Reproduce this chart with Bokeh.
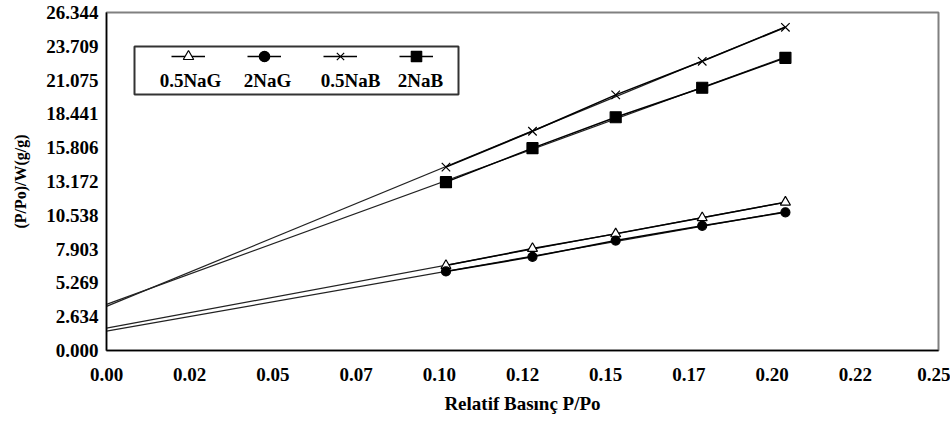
import numpy as np
from bokeh.plotting import figure
from bokeh.models import (Range1d, FixedTicker, Legend, LegendItem, Label,
                          BoxAnnotation, CustomJSTickFormatter)
from bokeh.core.properties import value
from bokeh.embed import file_html
from bokeh.resources import INLINE

# ---------------- data ----------------
x_pp = [0.102, 0.128, 0.153, 0.179, 0.204]
naG_05 = [6.62, 7.95, 9.09, 10.34, 11.56]
naG_2 = [6.16, 7.30, 8.57, 9.72, 10.77]
naB_05 = [14.29, 17.09, 19.92, 22.54, 25.19]
naB_2 = [13.12, 15.77, 18.18, 20.48, 22.81]
series_names = ["0.5NaG", "2NaG", "0.5NaB", "2NaB"]

x_ticks = [0.0, 0.025, 0.05, 0.075, 0.1, 0.125, 0.15, 0.175, 0.2, 0.225, 0.25]
x_tick_labels = ["0.00", "0.02", "0.05", "0.07", "0.10", "0.12", "0.15",
                 "0.17", "0.20", "0.22", "0.25"]
y_ticks = [0.0, 2.634, 5.269, 7.903, 10.538, 13.172, 15.806, 18.441,
           21.075, 23.709, 26.344]
y_tick_labels = ["0.000", "2.634", "5.269", "7.903", "10.538", "13.172",
                 "15.806", "18.441", "21.075", "23.709", "26.344"]

FONT = "Liberation Serif"

p = figure(width=950, height=421, output_backend="svg", toolbar_location=None,
           x_range=Range1d(0, 0.25), y_range=Range1d(0, 26.344),
           min_border_left=106, min_border_right=12, min_border_top=12,
           min_border_bottom=71)
p.xgrid.visible = False
p.ygrid.visible = False
p.outline_line_color = "#808080"
p.outline_line_width = 2
p.background_fill_color = "white"

fmt_code = """
const i = tv.findIndex(t => Math.abs(t - tick) < 1e-6);
return i >= 0 ? tl[i] : '';
"""
p.xaxis.ticker = FixedTicker(ticks=x_ticks)
p.xaxis.formatter = CustomJSTickFormatter(args=dict(tv=x_ticks, tl=x_tick_labels), code=fmt_code)
p.yaxis.ticker = FixedTicker(ticks=y_ticks)
p.yaxis.formatter = CustomJSTickFormatter(args=dict(tv=y_ticks, tl=y_tick_labels), code=fmt_code)

for ax in (p.xaxis[0], p.yaxis[0]):
    ax.axis_line_color = "black"
    ax.axis_line_width = 1.5
    ax.major_tick_out = 0
    ax.major_tick_in = 0
    ax.minor_tick_out = 0
    ax.minor_tick_in = 0
    ax.major_label_text_font = FONT
    ax.major_label_text_font_style = "bold"
    ax.major_label_text_font_size = "19px"
    ax.major_label_text_color = "black"
    ax.axis_label_text_font = FONT
    ax.axis_label_text_font_style = "bold"
    ax.axis_label_text_color = "black"

p.xaxis.axis_label = "Relatif Basınç P/Po"
p.xaxis.axis_label_text_font_size = "19px"
p.xaxis.major_label_standoff = 17
p.xaxis.axis_label_standoff = 9
p.yaxis.axis_label = "(P/Po)/W(g/g)"
p.yaxis.axis_label_text_font_size = "16px"
p.yaxis.major_label_standoff = 8
p.yaxis.axis_label_standoff = 14

series = [naG_05, naG_2, naB_05, naB_2]
styles = [
    dict(marker="triangle", fill_color="white", size=10),
    dict(marker="circle", fill_color="black", size=9),
    dict(marker="x", fill_color="black", size=12),
    dict(marker="square", fill_color="black", size=11),
]

items = []
for name, ys, st in zip(series_names, series, styles):
    slope, icpt = np.polyfit(x_pp, ys, 1)
    fx = [0.0, x_pp[-1]]
    fy = [icpt, icpt + slope * x_pp[-1]]
    p.line(fx, fy, line_color="#222222", line_width=1.2)
    ln = p.line(x_pp, ys, line_color="black", line_width=1.5)
    sc = p.scatter(x_pp, ys, marker=st["marker"], size=st["size"],
                   fill_color=st["fill_color"], line_color="black", line_width=1.2)
    items.append(LegendItem(label=value(""), renderers=[ln, sc]))

box = BoxAnnotation(left=28, right=352, top=304, bottom=256,
                    left_units="screen", right_units="screen",
                    top_units="screen", bottom_units="screen",
                    fill_color="white", fill_alpha=1.0,
                    line_color="#333333", line_width=2, line_alpha=1.0)
p.add_layout(box)

legend = Legend(items=items, orientation="horizontal", location=(65, 281),
                padding=0, margin=0, spacing=42, glyph_width=34, glyph_height=26,
                label_width=0, label_standoff=0, label_height=26,
                label_text_font_size="1px",
                border_line_alpha=0, background_fill_alpha=0)
p.add_layout(legend, "center")

label_x = [84, 161, 244, 314]
for name, lx in zip(series_names, label_x):
    p.add_layout(Label(x=lx, y=270, x_units="screen", y_units="screen",
                       text=name, text_align="center", text_baseline="middle",
                       text_font=FONT, text_font_style="bold",
                       text_font_size="19px", text_color="black"))

open("out.html", "w").write(file_html(p, INLINE))
